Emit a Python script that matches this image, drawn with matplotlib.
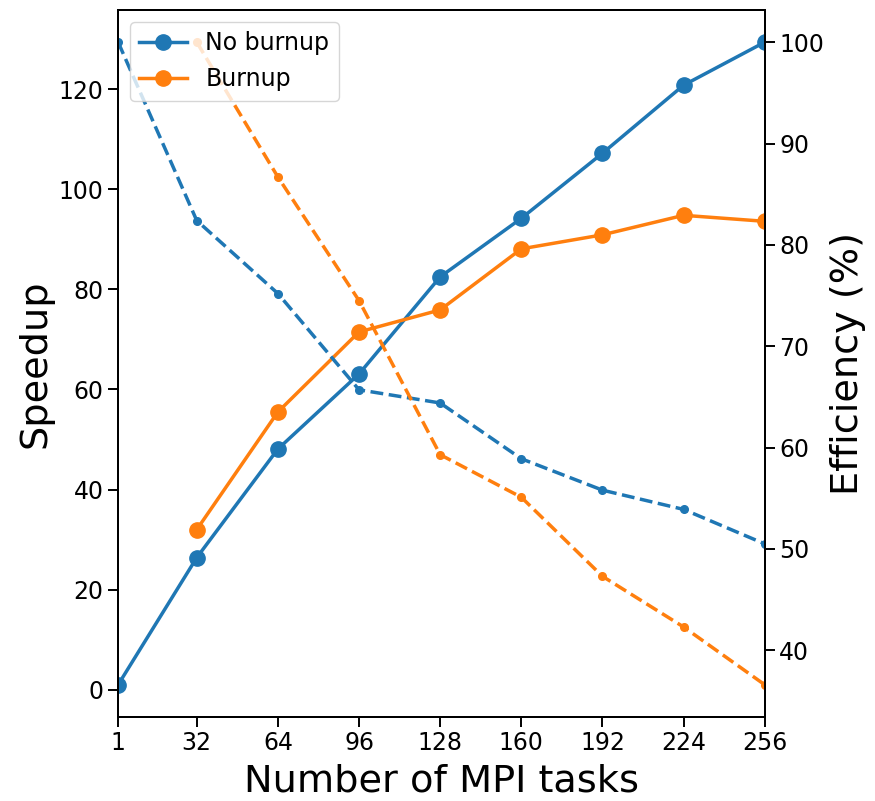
import matplotlib
matplotlib.use("Agg")
import matplotlib.pyplot as plt

tasks = [1, 32, 64, 96, 128, 160, 192, 224, 256]
xticks = [1, 32, 64, 96, 128, 160, 192, 224, 256]

tasks_burn = [32, 64, 96, 128, 160, 192, 224, 256]

speedup_noburn = [1.0, 26.4, 48.1, 63.1, 82.5, 94.2, 107.2, 120.8, 129.4]
speedup_burn = [32.0, 55.5, 71.5, 75.9, 88.1, 90.9, 94.8, 93.6]

eff_noburn = [100.0, 82.4, 75.2, 65.7, 64.4, 58.9, 55.8, 53.9, 50.5]
eff_burn = [100.0, 86.7, 74.5, 59.3, 55.1, 47.3, 42.3, 36.6]

blue = "#1f77b4"
orange = "#ff7f0e"

fig = plt.figure(figsize=(8.75, 8.01), dpi=100)
ax1 = fig.add_axes([0.135, 0.105, 0.739, 0.8825])
ax2 = ax1.twinx()

l1, = ax1.plot(tasks, speedup_noburn, "-o", color=blue, lw=2.5, ms=11, label="No burnup")
l2, = ax1.plot(tasks_burn, speedup_burn, "-o", color=orange, lw=2.5, ms=11, label="Burnup")

ax2.plot(tasks, eff_noburn, "--o", color=blue, lw=2.5, ms=5.5)
ax2.plot(tasks_burn, eff_burn, "--o", color=orange, lw=2.5, ms=5.5)

ax1.set_xlim(1, 256)
ax1.set_xticks(xticks)
ax1.set_xticklabels([str(t) for t in xticks])

ax1.set_xlabel("Number of MPI tasks", fontsize=27.5, labelpad=6)
ax1.set_ylabel("Speedup", fontsize=27.5)
ax2.set_ylabel("Efficiency (%)", fontsize=27.5)

for ax in (ax1, ax2):
    ax.tick_params(labelsize=17, length=7, width=1.4)
    for s in ax.spines.values():
        s.set_linewidth(1.4)

ax2.legend(handles=[l1, l2], loc="upper left", fontsize=17)

fig.savefig("out.png", dpi=100)
